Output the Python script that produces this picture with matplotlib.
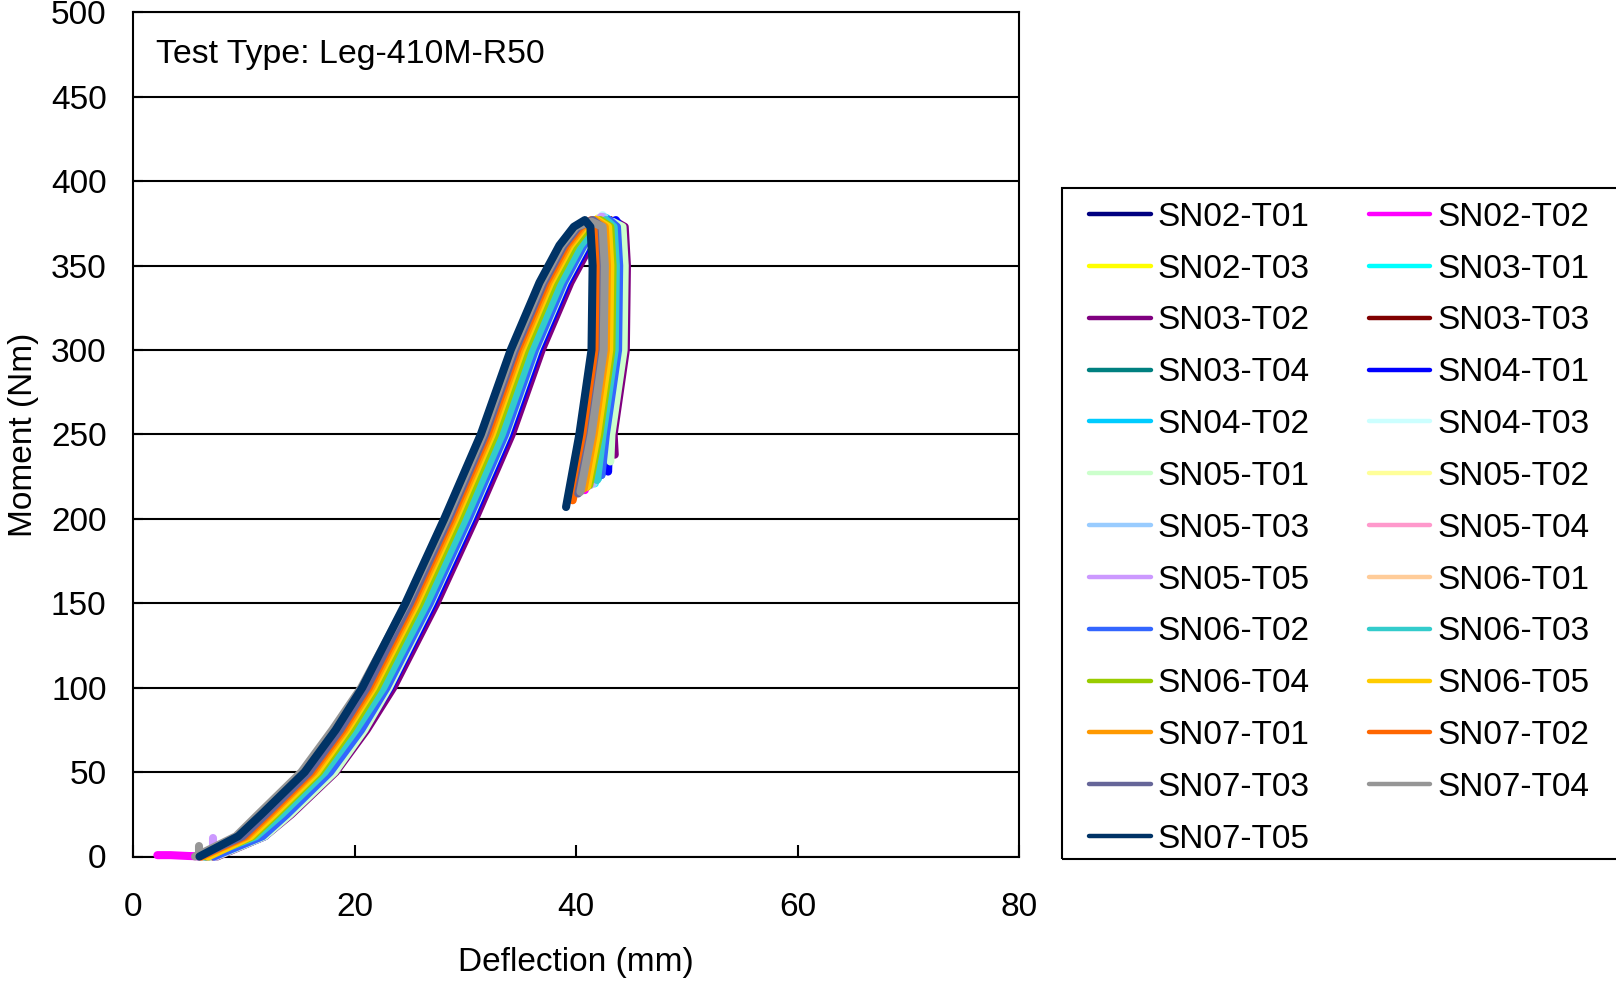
import matplotlib
matplotlib.use('Agg')
import matplotlib.pyplot as plt
from matplotlib.lines import Line2D
from matplotlib.patches import Rectangle

plt.rcParams['font.family'] = ['Liberation Sans', 'DejaVu Sans']

# moment levels (Nm) shared by every test: rising part, then falling part
moment_rise = [0, 12, 25, 50, 75, 100, 150, 200, 250, 300, 340, 362, 373]
moment_fall = [373, 350, 300, 250]

names = ['SN02-T01', 'SN02-T02', 'SN02-T03', 'SN03-T01', 'SN03-T02', 'SN03-T03', 'SN03-T04',
         'SN04-T01', 'SN04-T02', 'SN04-T03', 'SN05-T01', 'SN05-T02', 'SN05-T03', 'SN05-T04',
         'SN05-T05', 'SN06-T01', 'SN06-T02', 'SN06-T03', 'SN06-T04', 'SN06-T05', 'SN07-T01',
         'SN07-T02', 'SN07-T03', 'SN07-T04', 'SN07-T05']
colors = ['#000080', '#FF00FF', '#FFFF00', '#00FFFF', '#800080', '#800000', '#008080',
          '#0000FF', '#00CCFF', '#CCFFFF', '#CCFFCC', '#FFFF99', '#99CCFF', '#FF99CC',
          '#CC99FF', '#FFCC99', '#3366FF', '#33CCCC', '#99CC00', '#FFCC00', '#FF9900',
          '#FF6600', '#666699', '#969696', '#003366']

peak_moment = [377, 376, 378, 379, 376, 377, 377, 377, 378, 380, 376, 378, 379, 378, 379,
               377, 377, 377, 377, 377, 377, 377, 377, 376, 377]
end_moment = [219, 217, 220, 221, 238, 233, 226, 228, 224, 222, 234, 224, 221, 220, 220,
              219, 226, 223, 220, 219, 218, 211, 215, 216, 207]

# deflection (mm): 13 rising points, peak, 4 falling points, last point
sn02_t01 = [6.8, 10.8, 13.0, 16.9, 19.7, 22.1, 26.0, 29.5, 32.8, 35.5, 38.1, 39.9, 41.2, 42.1, 42.8, 43.0, 42.9, 41.8, 41.0]
sn02_t02 = [6.6, 10.9, 13.1, 17.0, 19.8, 22.2, 26.1, 29.6, 32.9, 35.6, 38.2, 40.0, 41.3, 42.2, 42.8, 43.0, 42.9, 41.8, 40.8]
sn02_t03 = [6.9, 10.7, 12.9, 16.8, 19.6, 22.0, 25.9, 29.4, 32.7, 35.4, 38.0, 39.8, 41.1, 42.0, 42.7, 42.9, 42.8, 41.7, 40.9]
sn03_t01 = [6.4, 11.0, 13.3, 17.2, 20.0, 22.5, 26.4, 29.9, 33.2, 35.9, 38.5, 40.3, 41.6, 42.5, 43.0, 43.2, 43.1, 42.0, 41.7]
sn03_t02 = [7.6, 11.9, 14.3, 18.3, 21.1, 23.5, 27.4, 30.9, 34.2, 36.9, 39.5, 41.3, 42.6, 43.6, 44.4, 44.6, 44.5, 43.4, 43.5]
sn03_t03 = [7.2, 11.6, 13.9, 17.8, 20.6, 23.0, 26.9, 30.4, 33.7, 36.4, 39.0, 40.8, 42.1, 43.1, 43.8, 44.0, 43.9, 42.8, 42.9]
sn03_t04 = [6.7, 11.3, 13.6, 17.5, 20.3, 22.7, 26.6, 30.1, 33.4, 36.1, 38.7, 40.5, 41.8, 42.8, 43.5, 43.7, 43.6, 42.5, 42.3]
sn04_t01 = [7.4, 11.9, 14.1, 18.0, 20.8, 23.2, 27.1, 30.6, 33.9, 36.6, 39.2, 41.0, 42.3, 43.6, 44.0, 44.2, 44.1, 43.0, 42.9]
sn04_t02 = [6.9, 11.5, 13.7, 17.6, 20.4, 22.8, 26.7, 30.2, 33.5, 36.2, 38.8, 40.6, 41.9, 42.8, 43.3, 43.5, 43.4, 42.3, 42.0]
sn04_t03 = [6.5, 11.0, 13.2, 17.1, 19.9, 22.3, 26.2, 29.7, 33.0, 35.7, 38.3, 40.1, 41.4, 42.4, 42.9, 43.1, 43.0, 41.9, 41.6]
sn05_t01 = [7.5, 11.9, 14.2, 18.2, 20.9, 23.1, 26.9, 30.4, 33.7, 36.4, 39.0, 40.8, 42.1, 43.3, 44.2, 44.4, 44.3, 43.2, 43.1]
sn05_t02 = [6.8, 11.3, 13.5, 17.4, 20.2, 22.6, 26.5, 30.0, 33.3, 36.0, 38.6, 40.4, 41.7, 42.6, 43.2, 43.4, 43.3, 42.2, 41.9]
sn05_t03 = [6.6, 11.2, 13.3, 17.2, 20.0, 22.4, 26.3, 29.8, 33.1, 35.8, 38.4, 40.2, 41.5, 42.5, 43.1, 43.3, 43.2, 42.1, 41.6]
sn05_t04 = [6.7, 10.9, 13.0, 16.9, 19.7, 22.1, 26.0, 29.5, 32.8, 35.5, 38.1, 39.9, 41.2, 42.2, 42.9, 43.1, 43.0, 41.9, 41.2]
sn05_t05 = [7.4, 11.0, 13.1, 17.0, 19.8, 22.2, 26.1, 29.6, 32.9, 35.6, 38.2, 40.0, 41.3, 42.3, 42.8, 43.0, 42.9, 41.8, 41.3]
sn06_t01 = [6.3, 10.7, 12.8, 16.7, 19.5, 21.9, 25.8, 29.3, 32.6, 35.3, 37.9, 39.7, 41.0, 41.9, 42.7, 42.9, 42.8, 41.7, 40.9]
sn06_t02 = [7.3, 11.7, 13.9, 17.8, 20.6, 22.9, 26.8, 30.3, 33.6, 36.3, 38.9, 40.7, 42.0, 43.0, 43.7, 43.9, 43.8, 42.7, 42.3]
sn06_t03 = [6.5, 11.1, 13.4, 17.3, 20.1, 22.6, 26.5, 30.0, 33.3, 36.0, 38.6, 40.4, 41.7, 42.7, 43.4, 43.6, 43.5, 42.4, 41.9]
sn06_t04 = [6.6, 10.8, 12.9, 16.8, 19.6, 22.0, 25.9, 29.4, 32.7, 35.4, 38.0, 39.8, 41.1, 42.2, 43.1, 43.3, 43.2, 42.1, 41.2]
sn06_t05 = [6.8, 10.6, 12.7, 16.6, 19.3, 21.7, 25.6, 29.1, 32.4, 35.1, 37.7, 39.5, 40.8, 41.9, 42.9, 43.1, 43.0, 41.9, 41.0]
sn07_t01 = [6.2, 10.3, 12.4, 16.3, 19.1, 21.5, 25.4, 28.9, 32.2, 34.9, 37.5, 39.3, 40.6, 41.7, 42.6, 42.8, 42.7, 41.6, 40.7]
sn07_t02 = [6.1, 10.1, 12.2, 16.1, 18.9, 21.3, 25.2, 28.7, 32.0, 34.7, 37.3, 39.1, 40.4, 41.4, 41.9, 42.1, 42.0, 40.9, 39.7]
sn07_t03 = [5.9, 9.9, 12.0, 15.9, 18.7, 21.1, 25.0, 28.5, 31.8, 34.5, 37.1, 38.9, 40.2, 41.5, 42.3, 42.5, 42.4, 41.3, 40.2]
sn07_t04 = [5.6, 9.3, 11.3, 15.2, 18.0, 20.6, 24.7, 28.3, 31.6, 34.3, 36.9, 38.7, 40.0, 41.4, 42.4, 42.6, 42.5, 41.4, 40.4]
sn07_t05 = [6.0, 9.5, 11.6, 15.5, 18.3, 20.7, 24.6, 28.1, 31.4, 34.1, 36.7, 38.5, 39.8, 40.8, 41.3, 41.5, 41.4, 40.3, 39.1]

deflections = [sn02_t01, sn02_t02, sn02_t03, sn03_t01, sn03_t02, sn03_t03, sn03_t04,
               sn04_t01, sn04_t02, sn04_t03, sn05_t01, sn05_t02, sn05_t03, sn05_t04,
               sn05_t05, sn06_t01, sn06_t02, sn06_t03, sn06_t04, sn06_t05, sn07_t01,
               sn07_t02, sn07_t03, sn07_t04, sn07_t05]

# little bits near the origin
sn02_t02_toe_defl = [2.2, 3.4, 5.0, 6.6]
sn02_t02_toe_moment = [0.8, 0.8, 0.3, 0]
sn05_t05_spike_defl = [7.2, 7.2]
sn05_t05_spike_moment = [3, 11]
sn07_t04_spike_defl = [6.0, 6.0]
sn07_t04_spike_moment = [1, 6]

fig = plt.figure(figsize=(16.16, 9.82), dpi=100)
ax = fig.add_axes([133/1616, 1-856.5/982, (1019-133)/1616, (856.5-12.4)/982])

lw = 5.8
for i in range(len(names)):
    m = moment_rise + [peak_moment[i]] + moment_fall + [end_moment[i]]
    ax.plot(deflections[i], m, color=colors[i], lw=lw, solid_capstyle='round',
            solid_joinstyle='round', clip_on=False, zorder=3)
    if names[i] == 'SN02-T02':
        ax.plot(sn02_t02_toe_defl, sn02_t02_toe_moment, color=colors[i], lw=lw,
                solid_capstyle='round', clip_on=False, zorder=3)
    if names[i] == 'SN05-T05':
        ax.plot(sn05_t05_spike_defl, sn05_t05_spike_moment, color=colors[i], lw=lw,
                solid_capstyle='round', clip_on=False, zorder=3)
    if names[i] == 'SN07-T04':
        ax.plot(sn07_t04_spike_defl, sn07_t04_spike_moment, color=colors[i], lw=lw,
                solid_capstyle='round', clip_on=False, zorder=3)

ax.set_xlim(0, 80)
ax.set_ylim(0, 500)
ax.set_xticks([0, 20, 40, 60, 80])
ax.set_yticks(range(0, 501, 50))
ax.set_axisbelow(True)
ax.yaxis.grid(True, color='black', lw=1.5)
for s in ax.spines.values():
    s.set_linewidth(1.5)
ax.tick_params(axis='x', direction='in', length=8.5, width=1.5, labelsize=24, pad=25.5)
ax.tick_params(axis='y', direction='in', length=7, width=1.5, labelsize=24, pad=19)

ax.set_xlabel('Deflection (mm)', fontsize=24, va='center')
ax.xaxis.set_label_coords(0.5, -0.125)
ax.set_ylabel('Moment (Nm)', fontsize=24, va='center')
ax.yaxis.set_label_coords(-0.124, 0.5)

fig.text(156.5/1616, 1-63/982, 'Test Type: Leg-410M-R50', fontsize=24.4, va='baseline', ha='left')

# legend: row-wise order in 2 columns
handles = [Line2D([], [], color=c, lw=3.2, solid_capstyle='round') for c in colors]
order = list(range(0, 25, 2)) + list(range(1, 25, 2))
leg = fig.legend([handles[k] for k in order], [names[k] for k in order], ncol=2,
                 loc='upper left', bbox_to_anchor=(1089/1616, 1-201.7/982),
                 frameon=False, fontsize=24, borderpad=0, borderaxespad=0,
                 handlelength=1.85, handletextpad=0.2, columnspacing=1.78,
                 labelspacing=0.625)
fig.patches.append(Rectangle((1062/1616, 1-858.5/982), 0.5, (858.5-187.6)/982,
                             transform=fig.transFigure, fill=False, ec='black', lw=1.5))

plt.savefig('out.png', dpi=100)
